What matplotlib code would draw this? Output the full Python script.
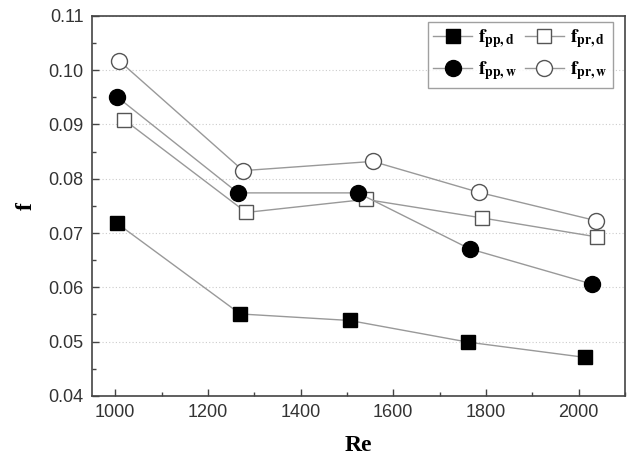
import matplotlib
matplotlib.use('Agg')
import matplotlib.pyplot as plt
from matplotlib.ticker import MultipleLocator, FormatStrFormatter

# Values
re_pp_d = [1004, 1270, 1506, 1762, 2014]
f_pp_d = [0.0718, 0.0551, 0.0539, 0.0499, 0.0471]

re_pr_d = [1019, 1283, 1541, 1791, 2039]
f_pr_d = [0.0909, 0.0738, 0.0762, 0.0728, 0.0693]

re_pp_w = [1004, 1265, 1524, 1765, 2029]
f_pp_w = [0.0951, 0.0774, 0.0774, 0.0671, 0.0606]

re_pr_w = [1009, 1276, 1556, 1785, 2037]
f_pr_w = [0.1017, 0.0815, 0.0832, 0.0775, 0.0723]

plt.rcParams['mathtext.fontset'] = 'stix'

fig = plt.figure(figsize=(6.28, 4.68), dpi=100)
ax = fig.add_axes([0.1465, 0.154, 0.8485, 0.812])

line_c = '#999999'
h1, = ax.plot(re_pp_d, f_pp_d, color=line_c, lw=1.0, marker='s', ms=10,
              mfc='black', mec='black', label=r'$\mathbf{f}_{\mathbf{pp,d}}$', zorder=3)
h2, = ax.plot(re_pr_d, f_pr_d, color=line_c, lw=1.0, marker='s', ms=10,
              mfc='white', mec='#555555', mew=1.0, label=r'$\mathbf{f}_{\mathbf{pr,d}}$', zorder=3)
h3, = ax.plot(re_pp_w, f_pp_w, color=line_c, lw=1.0, marker='o', ms=11.5,
              mfc='black', mec='black', label=r'$\mathbf{f}_{\mathbf{pp,w}}$', zorder=3)
h4, = ax.plot(re_pr_w, f_pr_w, color=line_c, lw=1.0, marker='o', ms=11.5,
              mfc='white', mec='#555555', mew=1.0, label=r'$\mathbf{f}_{\mathbf{pr,w}}$', zorder=3)

ax.set_xlim(950, 2100)
ax.set_ylim(0.04, 0.11)
ax.xaxis.set_major_locator(MultipleLocator(200))
ax.xaxis.set_minor_locator(MultipleLocator(100))
ax.yaxis.set_major_locator(MultipleLocator(0.01))
ax.yaxis.set_minor_locator(MultipleLocator(0.005))
ax.yaxis.set_major_formatter(FormatStrFormatter('%.2f'))

ax.tick_params(which='both', direction='in', colors='#444444', labelcolor='#333333')
ax.tick_params(which='major', length=5, width=1.0, labelsize=13, pad=6)
ax.tick_params(which='minor', length=3, width=1.0)
for lab in ax.get_xticklabels() + ax.get_yticklabels():
    lab.set_family('Liberation Sans')

for s in ax.spines.values():
    s.set_color('#444444')
    s.set_linewidth(1.2)

ax.grid(axis='y', which='major', linestyle=(0, (1, 2)), color='#cccccc', lw=0.8)

ax.set_xlabel('Re', family='Liberation Serif', fontweight='bold', fontsize=17, labelpad=10)
ax.set_ylabel('f', family='Liberation Serif', fontweight='bold', fontsize=17, labelpad=8)

# column-wise fill: pp,d / pp,w in the first column, pr,d / pr,w in the second
leg = ax.legend([h1, h3, h2, h4], [h.get_label() for h in (h1, h3, h2, h4)],
                ncol=2, loc='upper right', bbox_to_anchor=(0.985, 0.995), borderaxespad=0.2,
                fontsize=14, frameon=True, fancybox=False, edgecolor='#888888',
                handlelength=2.0, columnspacing=0.4, handletextpad=0.3,
                borderpad=0.3, labelspacing=0.45)
leg.get_frame().set_linewidth(1.0)

fig.savefig('out.png', dpi=100)
